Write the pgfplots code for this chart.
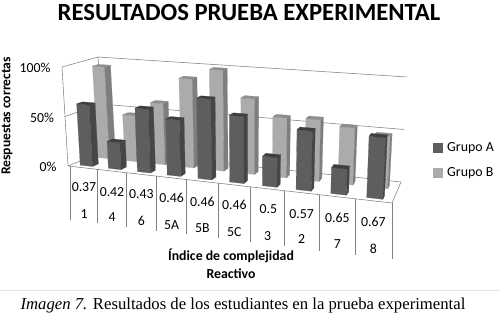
\documentclass[border=0pt]{standalone}
\usepackage{pgfplots}
\pgfplotsset{compat=1.18}
\usepackage{fontspec}
\setmainfont{Carlito}
\newfontfamily\capfont{Liberation Serif}
\definecolor{aF}{HTML}{5E5E60}\definecolor{aS}{HTML}{464648}\definecolor{aT}{HTML}{3E3E40}
\definecolor{bF}{HTML}{ABABAD}\definecolor{bS}{HTML}{7E7E80}\definecolor{bT}{HTML}{8E8E90}
\definecolor{gl}{HTML}{808080}
% one face of a bar: #1 category, #2 depth of the front, #3 value, #4 colour, #5 rows (d e f)
\newcommand\barface[5]{\addplot[fill=#4,draw=#4,line width=0.2pt] table[row sep=\\,
  x expr={px(#1+0.285+0.44*\thisrow{d},#2+0.17*\thisrow{e},#3*\thisrow{f})},
  y expr={py(#1+0.285+0.44*\thisrow{d},#2+0.17*\thisrow{e},#3*\thisrow{f})}]{#5};}
\newcommand\threedbar[4]{%
  \barface{#1}{#2}{#3}{#4F}{d e f\\0 0 0\\1 0 0\\1 0 1\\0 0 1\\0 0 0\\}%
  \barface{#1}{#2}{#3}{#4S}{d e f\\1 0 0\\1 1 0\\1 1 1\\1 0 1\\1 0 0\\}%
  \barface{#1}{#2}{#3}{#4T}{d e f\\0 0 1\\1 0 1\\1 1 1\\0 1 1\\0 0 1\\}}
\newcommand\wall[6]{\addplot[gl,line width=0.55pt] table[row sep=\\,
  x expr={px(\thisrow{c},\thisrow{w},\thisrow{v})},
  y expr={py(\thisrow{c},\thisrow{w},\thisrow{v})}]{c w v\\#1 #2 #3\\#4 #5 #6\\};}
\newcommand\divider[3]{\addplot[gl,line width=0.55pt] coordinates {(#1,#2)(#1,#3)};}
\newcommand\lab[3]{\node[font=\fontsize{13.8}{14}\selectfont] at (axis cs:#1,#2) {#3};}
\begin{document}
\begin{tikzpicture}
\path[use as bounding box] (0,0) rectangle (500pt,319pt);
\begin{axis}[at={(0,0)},anchor=south west,scale only axis,width=500pt,height=319pt,
  xmin=0,xmax=500,ymin=0,ymax=319,y dir=reverse,hide axis,clip=false,
  declare function={
    tt(\c)=(\c/10)/((\c/10)+(1-\c/10)*1.164);
    mix(\t,\w,\a,\b,\p,\q)=(1-\t)*((1-\w)*\a+\w*\b)+\t*((1-\w)*\p+\w*\q);
    px(\c,\w,\v)=(1-\v/100)*mix(tt(\c),\w,68,104,392,401)+(\v/100)*mix(tt(\c),\w,62,98,397,407);
    py(\c,\w,\v)=(1-\v/100)*mix(tt(\c),\w,166,151,203,182)+(\v/100)*mix(tt(\c),\w,67,57,92,77);
  }]
% walls and floor
\wall{0}{1}{100}{10}{1}{100}
\wall{0}{1}{50}{10}{1}{50}
\wall{0}{1}{0}{10}{1}{0}
\wall{0}{0}{100}{0}{1}{100}
\wall{0}{0}{50}{0}{1}{50}
\wall{0}{0}{0}{0}{1}{0}
\wall{0}{0}{0}{0}{0}{100}
\wall{0}{1}{0}{0}{1}{100}
\wall{0}{0}{0}{10}{0}{0}
\wall{10}{0}{0}{10}{1}{0}
% table rules
\divider{70.3}{166}{220}
\divider{97.7}{169.2}{223.3}
\divider{126.7}{172.5}{227.3}
\divider{156}{175.9}{230.7}
\divider{186.7}{179.4}{234.3}
\divider{218.3}{183}{238.3}
\divider{250.7}{186.8}{241.7}
\divider{284.3}{190.6}{246}
\divider{319.3}{194.6}{250.7}
\divider{355.3}{198.8}{255}
\divider{392.3}{203}{259.3}
% Grupo B
\threedbar{0}{0.62}{95}{b}
\threedbar{1}{0.62}{47}{b}
\threedbar{2}{0.62}{62}{b}
\threedbar{3}{0.62}{89}{b}
\threedbar{4}{0.62}{100}{b}
\threedbar{5}{0.62}{74}{b}
\threedbar{6}{0.62}{58}{b}
\threedbar{7}{0.62}{59}{b}
\threedbar{8}{0.62}{54}{b}
\threedbar{9}{0.62}{49}{b}
% Grupo A
\threedbar{0}{0.12}{62}{a}
\threedbar{1}{0.12}{27}{a}
\threedbar{2}{0.12}{63}{a}
\threedbar{3}{0.12}{55}{a}
\threedbar{4}{0.12}{78}{a}
\threedbar{5}{0.12}{64}{a}
\threedbar{6}{0.12}{28}{a}
\threedbar{7}{0.12}{56}{a}
\threedbar{8}{0.12}{24}{a}
\threedbar{9}{0.12}{56}{a}
% texts
\node[font=\bfseries\fontsize{24.7}{25}\selectfont] at (axis cs:249,12) {RESULTADOS PRUEBA EXPERIMENTAL};
\node[font=\bfseries\fontsize{13.6}{14}\selectfont,rotate=90] at (axis cs:7,116) {Respuestas correctas};
\lab{35}{68}{100\%}
\lab{42}{118}{50\%}
\lab{48}{167}{0\%}
\lab{84}{187.3}{0.37}
\lab{112}{191.7}{0.42}
\lab{141.3}{194.3}{0.43}
\lab{171.7}{197.7}{0.46}
\lab{202.3}{201.7}{0.46}
\lab{234.3}{205}{0.46}
\lab{268.3}{209.3}{0.5}
\lab{301.7}{214}{0.57}
\lab{337.3}{218.3}{0.65}
\lab{373.3}{222.3}{0.67}
\lab{84}{214}{1}
\lab{112}{217.3}{4}
\lab{141.3}{220.7}{6}
\lab{171.7}{225}{5A}
\lab{202.3}{228.3}{5B}
\lab{234.3}{232.3}{5C}
\lab{267.7}{236}{3}
\lab{301.7}{239.3}{2}
\lab{337.3}{244}{7}
\lab{373.3}{248.7}{8}
\node[font=\bfseries\fontsize{13.8}{14}\selectfont] at (axis cs:231,256) {Índice de complejidad};
\node[font=\bfseries\fontsize{13.8}{14}\selectfont] at (axis cs:231,273.3) {Reactivo};
\addplot[only marks,mark=square*,mark size=4.5pt,color=aF,mark options={draw=aF,fill=aF}] coordinates {(438,148)};
\addplot[only marks,mark=square*,mark size=4.5pt,color=bF,mark options={draw=bF,fill=bF}] coordinates {(438,173)};
\node[anchor=west,inner sep=0pt,font=\fontsize{13.9}{14}\selectfont] at (axis cs:447,148) {Grupo A};
\node[anchor=west,inner sep=0pt,font=\fontsize{13.9}{14}\selectfont] at (axis cs:447,173) {Grupo B};
\addplot[color={rgb,255:red,225;green,225;blue,225},line width=0.8pt] coordinates {(0,290)(500,290)};
\node[font=\capfont\fontsize{16.7}{17}\selectfont] at (axis cs:243,305) {\textit{Imagen 7.} Resultados de los estudiantes en la prueba experimental};
\end{axis}
\end{tikzpicture}
\end{document}
